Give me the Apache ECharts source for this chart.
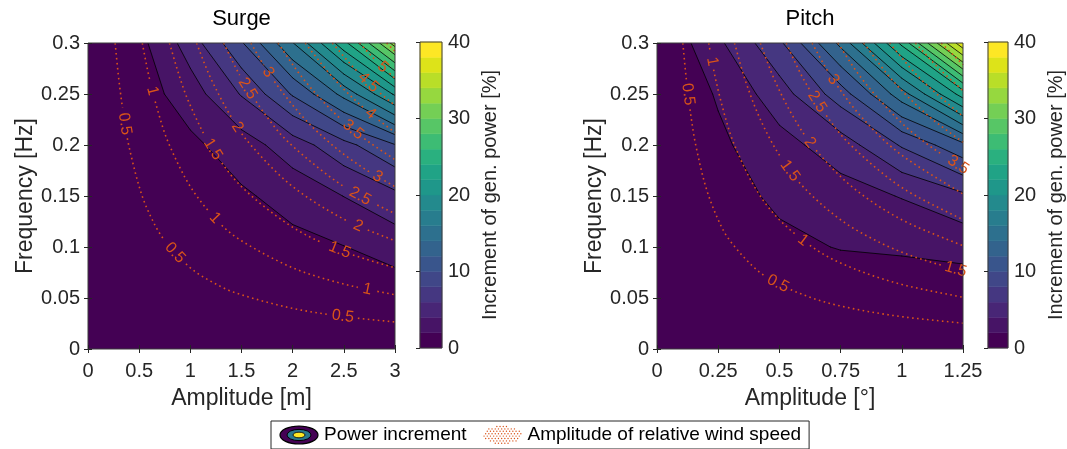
<!DOCTYPE html>
<html>
<head>
<meta charset="utf-8">
<script src="https://cdn.jsdelivr.net/npm/echarts@6/dist/echarts.min.js"></script>
<style>
  html, body { margin: 0; padding: 0; background: #fff; }
  #chart { width: 1067px; height: 449px; }
</style>
</head>
<body>
<div id="chart"></div>
<script>
// ---------------- data ----------------
// Surge: power increment [%] on an amplitude x frequency grid (rows = frequencies, bottom to top)
const surgeAmplitudes = [0, 0.5, 1, 1.5, 2, 2.5, 3];
const surgeFrequencies = [0, 0.05, 0.1, 0.15, 0.2, 0.25, 0.3];
const surgePower = [
  [0, 0,    0,    0,    0,    0,    0],
  [0, 0.04, 0.12, 0.25, 0.40, 0.59, 0.8],
  [0, 0.13, 0.43, 0.86, 1.40, 1.95, 2.8],
  [0, 0.26, 0.85, 1.69, 2.76, 4.03, 5.5],
  [0, 0.48, 1.55, 3.08, 5.03, 7.35, 9.9],
  [0, 0.95, 3.08, 6.14, 10.2, 14.6, 20.3],
  [0, 1.4,  4.9,  9.8,  15.9, 23.3, 32.9]
];

// Pitch: power increment [%] (rows = frequencies, bottom to top)
const pitchAmplitudes = [0, 0.25, 0.5, 0.75, 1, 1.25];
const pitchFrequencies = [0, 0.05, 0.1, 0.15, 0.2, 0.25, 0.3];
const pitchPower = [
  [0, 0,    0,   0,    0,    0],
  [0, 0.15, 0.4, 0.5,  0.6,  0.8],
  [0, 0.6,  1.5, 2.1,  2.3,  2.6],
  [0, 1.1,  2.4, 3.2,  4.1,  5.6],
  [0, 1.6,  3.3, 5.0,  8.2,  11.5],
  [0, 2.2,  5.1, 9.0,  15.1, 22.9],
  [0, 3.6,  7.6, 14.5, 24.5, 37.5]
];

// filled contour levels [%]
const powerLevels = [0, 2, 4, 6, 8, 10, 12, 14, 16, 18, 20, 22, 24, 26, 28, 30, 32, 34, 36, 38];

// relative wind speed amplitude [m/s]: iso-lines as [amplitude, frequency] points
const windLevels = [0.5, 1, 1.5, 2, 2.5, 3, 3.5, 4, 4.5, 5, 5.5];
const surgeWindCurves = [
  [[0.2653, 0.3], [0.3, 0.2653], [0.35, 0.2274], [0.4, 0.1989], [0.5, 0.1592], [0.6, 0.1326], [0.75, 0.1061], [1, 0.0796], [1.25, 0.0637], [1.5, 0.0531], [2, 0.0398], [2.5, 0.0318], [3, 0.0265]],
  [[0.5305, 0.3], [0.6, 0.2653], [0.7, 0.2274], [0.8, 0.1989], [1, 0.1592], [1.25, 0.1273], [1.5, 0.1061], [2, 0.0796], [2.5, 0.0637], [3, 0.0531]],
  [[0.7958, 0.3], [0.9, 0.2653], [1, 0.2387], [1.2, 0.1989], [1.5, 0.1592], [2, 0.1194], [2.5, 0.0955], [3, 0.0796]],
  [[1.061, 0.3], [1.2, 0.2653], [1.4, 0.2274], [1.6, 0.1989], [2, 0.1592], [2.5, 0.1273], [3, 0.1061]],
  [[1.3263, 0.3], [1.5, 0.2653], [1.75, 0.2274], [2, 0.1989], [2.5, 0.1592], [3, 0.1326]],
  [[1.5915, 0.3], [1.8, 0.2653], [2.1, 0.2274], [2.4, 0.1989], [2.7, 0.1768], [3, 0.1592]],
  [[1.8568, 0.3], [2.1, 0.2653], [2.4, 0.2321], [2.7, 0.2063], [3, 0.1857]],
  [[2.1221, 0.3], [2.4, 0.2653], [2.7, 0.2358], [3, 0.2122]],
  [[2.3873, 0.3], [2.6, 0.2755], [2.8, 0.2558], [3, 0.2387]],
  [[2.6526, 0.3], [2.8, 0.2842], [3, 0.2653]],
  [[2.9178, 0.3], [3, 0.2918]]
];
const pitchWindCurves = [
  [[0.1056, 0.3], [0.12, 0.2639], [0.14, 0.2262], [0.16, 0.1979], [0.2, 0.1583], [0.25, 0.1267], [0.3, 0.1056], [0.4, 0.0792], [0.5, 0.0633], [0.65, 0.0487], [0.8, 0.0396], [1, 0.0317], [1.25, 0.0253]],
  [[0.2111, 0.3], [0.24, 0.2639], [0.28, 0.2262], [0.32, 0.1979], [0.4, 0.1583], [0.5, 0.1267], [0.65, 0.0974], [0.8, 0.0792], [1, 0.0633], [1.25, 0.0507]],
  [[0.3167, 0.3], [0.36, 0.2639], [0.42, 0.2262], [0.5, 0.19], [0.6, 0.1583], [0.75, 0.1267], [0.9, 0.1056], [1.05, 0.0905], [1.25, 0.076]],
  [[0.4222, 0.3], [0.48, 0.2639], [0.56, 0.2262], [0.65, 0.1949], [0.8, 0.1583], [1, 0.1267], [1.25, 0.1013]],
  [[0.5278, 0.3], [0.6, 0.2639], [0.7, 0.2262], [0.8, 0.1979], [1, 0.1583], [1.25, 0.1267]],
  [[0.6333, 0.3], [0.72, 0.2639], [0.84, 0.2262], [1, 0.19], [1.25, 0.152]],
  [[0.7389, 0.3], [0.84, 0.2639], [0.98, 0.2262], [1.1, 0.2015], [1.25, 0.1773]],
  [[0.8444, 0.3], [0.96, 0.2639], [1.1, 0.2303], [1.25, 0.2027]],
  [[0.95, 0.3], [1.08, 0.2639], [1.25, 0.228]],
  [[1.0555, 0.3], [1.15, 0.2754], [1.25, 0.2533]],
  [[1.1611, 0.3], [1.25, 0.2787]]
];

// inline labels on the wind-speed lines: [level, amplitude where the label sits]
const surgeWindLabels = [
  [0.5, 0.36], [0.5, 0.85], [0.5, 2.49],
  [1, 0.63], [1, 1.24], [1, 2.73],
  [1.5, 1.22], [1.5, 2.46],
  [2, 1.46], [2, 2.64],
  [2.5, 1.56], [2.5, 2.66],
  [3, 1.76], [3, 2.83],
  [3.5, 2.59], [4, 2.76], [4.5, 2.74], [5, 2.88]
];
const pitchWindLabels = [
  [0.5, 0.127], [0.5, 0.494],
  [1, 0.225], [1, 0.596],
  [1.5, 0.543], [1.5, 1.22],
  [2, 0.625], [2.5, 0.654], [3, 0.719], [3.5, 1.23]
];

// tick labels
const surgeAmplitudeTicks = [0, 0.5, 1, 1.5, 2, 2.5, 3];
const pitchAmplitudeTicks = [0, 0.25, 0.5, 0.75, 1, 1.25];
const frequencyTicks = [0, 0.05, 0.1, 0.15, 0.2, 0.25, 0.3];
const colorbarTicks = [0, 10, 20, 30, 40];

// ---------------- styling helpers ----------------
const FONT = "'Liberation Sans', Arial, Helvetica, sans-serif";
const AXIS_COLOR = '#262626';
const WIND_COLOR = '#D95319';

const VIRIDIS = ['#440154', '#471365', '#482475', '#463480', '#414487', '#3B528B', '#355F8D',
  '#2F6C8E', '#2A788E', '#25848E', '#21918C', '#1E9C89', '#22A884', '#2FB47C', '#44BF70',
  '#5EC962', '#7AD151', '#9BD93C', '#BDDF26', '#DFE318', '#FDE725'];
function hexRgb(h) { return [1, 3, 5].map(o => parseInt(h.slice(o, o + 2), 16)); }
function viridis(t) {
  const s = t * (VIRIDIS.length - 1);
  const i = Math.min(Math.floor(s), VIRIDIS.length - 2);
  const f = s - i;
  const a = hexRgb(VIRIDIS[i]), b = hexRgb(VIRIDIS[i + 1]);
  return 'rgb(' + a.map((c, k) => Math.round(c + (b[k] - c) * f)).join(',') + ')';
}
const bandColors = powerLevels.map((_, k) => viridis(k / (powerLevels.length - 1)));
const levelStep = powerLevels[1] - powerLevels[0];

// ---------------- contouring on the grid ----------------
function cellCorners(amps, freqs, power, i, j) {
  return [
    { x: amps[i], y: freqs[j], v: power[j][i] },
    { x: amps[i + 1], y: freqs[j], v: power[j][i + 1] },
    { x: amps[i + 1], y: freqs[j + 1], v: power[j + 1][i + 1] },
    { x: amps[i], y: freqs[j + 1], v: power[j + 1][i] }
  ];
}
// part of a cell where value >= L (linear along the edges)
function clipCell(c, L) {
  const out = [];
  for (let e = 0; e < 4; e++) {
    const p = c[e], q = c[(e + 1) % 4];
    const pin = p.v >= L, qin = q.v >= L;
    if (pin) out.push([p.x, p.y]);
    if (pin !== qin) {
      const t = (L - p.v) / (q.v - p.v);
      out.push([p.x + t * (q.x - p.x), p.y + t * (q.y - p.y)]);
    }
  }
  return out;
}
function crossings(c, L) {
  const out = [];
  for (let e = 0; e < 4; e++) {
    const p = c[e], q = c[(e + 1) % 4];
    if ((p.v >= L) !== (q.v >= L)) {
      const t = (L - p.v) / (q.v - p.v);
      out.push([p.x + t * (q.x - p.x), p.y + t * (q.y - p.y)]);
    }
  }
  return out;
}
function allCells(amps, freqs, power) {
  const out = [];
  for (let j = 0; j < freqs.length - 1; j++)
    for (let i = 0; i < amps.length - 1; i++)
      out.push(cellCorners(amps, freqs, power, i, j));
  return out;
}

// one data item per level, painted from the lowest level up; all cell pieces of a level
// go into a single compound path so shared cell edges leave no seams
function fillRenderer(amps, freqs, power) {
  const cells = allCells(amps, freqs, power);
  return function (params, api) {
    const k = params.dataIndex, L = powerLevels[k];
    let d = '';
    cells.forEach(c => {
      const poly = clipCell(c, L);
      if (poly.length < 3) return;
      poly.map(p => api.coord(p)).forEach((q, n) => {
        d += (n === 0 ? 'M' : 'L') + q[0].toFixed(2) + ' ' + q[1].toFixed(2) + ' ';
      });
      d += 'Z ';
    });
    if (!d) return { type: 'group', children: [] };
    return { type: 'path', shape: { pathData: d }, style: { fill: bandColors[k] } };
  };
}

function lineRenderer(amps, freqs, power) {
  const cells = allCells(amps, freqs, power);
  return function (params, api) {
    const L = powerLevels[params.dataIndex];
    const children = [];
    if (params.dataIndex === 0) return { type: 'group', children };
    cells.forEach(c => {
      const x = crossings(c, L);
      for (let n = 0; n + 1 < x.length; n += 2) {
        const a = api.coord(x[n]), b = api.coord(x[n + 1]);
        children.push({
          type: 'line',
          shape: { x1: a[0], y1: a[1], x2: b[0], y2: b[1] },
          style: { stroke: '#000', lineWidth: 0.8, lineCap: 'round' }
        });
      }
    });
    return { type: 'group', children };
  };
}

// Catmull-Rom through pixel points (rendering only)
function smoothPixels(pts, steps) {
  if (pts.length < 3) return pts.slice();
  const out = [];
  for (let i = 0; i < pts.length - 1; i++) {
    const p0 = pts[Math.max(i - 1, 0)], p1 = pts[i], p2 = pts[i + 1], p3 = pts[Math.min(i + 2, pts.length - 1)];
    for (let s = 0; s < steps; s++) {
      const t = s / steps, t2 = t * t, t3 = t2 * t;
      out.push([0, 1].map(k => 0.5 * ((2 * p1[k]) + (-p0[k] + p2[k]) * t +
        (2 * p0[k] - 5 * p1[k] + 4 * p2[k] - p3[k]) * t2 + (-p0[k] + 3 * p1[k] - 3 * p2[k] + p3[k]) * t3)));
    }
  }
  out.push(pts[pts.length - 1]);
  return out;
}
const LABEL_SIZE = 16;
function labelWidth(s) {
  let w = 0;
  for (const ch of s) w += (ch === '.' ? 0.278 : 0.556) * LABEL_SIZE;
  return w;
}

function windRenderer(curves, labels) {
  return function (params, api) {
    const level = windLevels[params.dataIndex];
    const pts = smoothPixels(curves[params.dataIndex].map(p => api.coord(p)), 12);
    const arc = [0];
    for (let i = 1; i < pts.length; i++)
      arc.push(arc[i - 1] + Math.hypot(pts[i][0] - pts[i - 1][0], pts[i][1] - pts[i - 1][1]));
    const cuts = [];
    const children = [];
    labels.filter(l => l[0] === level).forEach(l => {
      const xp = api.coord([l[1], 0])[0];
      for (let i = 0; i < pts.length - 1; i++) {
        const a = pts[i], b = pts[i + 1];
        if ((a[0] - xp) * (b[0] - xp) <= 0 && a[0] !== b[0]) {
          const t = (xp - a[0]) / (b[0] - a[0]);
          const x = a[0] + t * (b[0] - a[0]), y = a[1] + t * (b[1] - a[1]);
          const s0 = arc[i] + t * (arc[i + 1] - arc[i]);
          let dx = b[0] - a[0], dy = b[1] - a[1];
          if (dx < 0) { dx = -dx; dy = -dy; }
          const text = String(level);
          const half = labelWidth(text) / 2 + 3;
          cuts.push([s0 - half, s0 + half]);
          children.push({
            type: 'text', x: x, y: y, rotation: Math.atan2(-dy, dx), z2: 5,
            style: { text: text, fill: WIND_COLOR, fontSize: LABEL_SIZE, fontFamily: FONT,
              align: 'center', verticalAlign: 'middle' }
          });
          break;
        }
      }
    });
    // split the line where labels sit
    let piece = [];
    const flush = () => {
      if (piece.length > 1) children.push({
        type: 'polyline', shape: { points: piece },
        style: { stroke: WIND_COLOR, lineWidth: 1.6, lineDash: [1.6, 3.4], fill: null }
      });
      piece = [];
    };
    for (let i = 0; i < pts.length; i++) {
      const inCut = cuts.some(c => arc[i] > c[0] && arc[i] < c[1]);
      if (inCut) flush(); else piece.push(pts[i]);
    }
    flush();
    return { type: 'group', children };
  };
}

function colorbarRenderer(params, api) {
  const L = powerLevels[params.dataIndex];
  const a = api.coord([0, L + levelStep]), b = api.coord([1, L]);
  const col = bandColors[params.dataIndex];
  return {
    type: 'rect',
    shape: { x: a[0], y: a[1], width: b[0] - a[0], height: b[1] - a[1] },
    style: { fill: col, stroke: col, lineWidth: 0.5 }
  };
}

// ---------------- axes / panels ----------------
function valueAxis(extra) {
  return Object.assign({
    type: 'value', z: 10,
    axisLine: { show: false },
    axisTick: { show: true, inside: true, length: 4, lineStyle: { color: AXIS_COLOR, width: 1 } },
    splitLine: { show: false },
    axisLabel: { show: false }
  }, extra);
}
const tickLabel = { show: true, fontSize: 20, color: AXIS_COLOR, fontFamily: FONT, showMinLabel: true, showMaxLabel: true };
const nameStyle = { fontSize: 23, color: AXIS_COLOR, fontFamily: FONT };

const panels = [
  { name: 'Surge', xName: 'Amplitude [m]', ampTicks: surgeAmplitudeTicks, amps: surgeAmplitudes, freqs: surgeFrequencies,
    power: surgePower, curves: surgeWindCurves, labels: surgeWindLabels,
    grid: { left: 88, top: 43, width: 307, height: 306 }, bar: { left: 420, top: 42, width: 22, height: 306 } },
  { name: 'Pitch', xName: 'Amplitude [°]', ampTicks: pitchAmplitudeTicks, amps: pitchAmplitudes, freqs: pitchFrequencies,
    power: pitchPower, curves: pitchWindCurves, labels: pitchWindLabels,
    grid: { left: 657, top: 43, width: 306, height: 306 }, bar: { left: 988, top: 42, width: 22, height: 306 } }
];

const grids = [], xAxes = [], yAxes = [], series = [], graphics = [];
const gridFrame = { show: true, borderColor: '#3a3a3a', borderWidth: 1, backgroundColor: 'transparent', z: 10 };

panels.forEach((p, n) => {
  const g = 2 * n, a = 3 * n;
  grids.push(Object.assign({}, p.grid, gridFrame));
  grids.push(Object.assign({}, p.bar, gridFrame));
  const xr = { min: p.ampTicks[0], max: p.ampTicks[p.ampTicks.length - 1], interval: p.ampTicks[1] - p.ampTicks[0] };
  const yr = { min: frequencyTicks[0], max: frequencyTicks[frequencyTicks.length - 1], interval: frequencyTicks[1] - frequencyTicks[0] };
  xAxes.push(valueAxis(Object.assign({ gridIndex: g, position: 'bottom',
    axisLabel: Object.assign({ margin: 12 }, tickLabel),
    name: p.xName, nameLocation: 'middle', nameGap: 38, nameTextStyle: nameStyle }, xr)));
  xAxes.push(valueAxis(Object.assign({ gridIndex: g, position: 'top' }, xr)));
  xAxes.push({ type: 'value', gridIndex: g + 1, min: 0, max: 1, show: false });
  yAxes.push(valueAxis(Object.assign({ gridIndex: g, position: 'left',
    axisLabel: Object.assign({ margin: 8 }, tickLabel),
    name: 'Frequency [Hz]', nameLocation: 'middle', nameGap: 49, nameRotate: 90, nameTextStyle: nameStyle }, yr)));
  yAxes.push(valueAxis(Object.assign({ gridIndex: g, position: 'right' }, yr)));
  yAxes.push(valueAxis({ gridIndex: g + 1, position: 'right',
    min: colorbarTicks[0], max: colorbarTicks[colorbarTicks.length - 1], interval: colorbarTicks[1] - colorbarTicks[0],
    axisLabel: Object.assign({ margin: 6 }, tickLabel),
    name: 'Increment of gen. power [%]', nameLocation: 'middle', nameGap: 38, nameRotate: 90,
    nameTextStyle: { fontSize: 20, color: AXIS_COLOR, fontFamily: FONT } }));

  const levelItems = powerLevels.map(L => [p.amps[0], p.freqs[0], L]);
  series.push({
    type: 'custom', name: 'Power increment', xAxisIndex: a, yAxisIndex: a, z: 1, clip: true,
    renderItem: fillRenderer(p.amps, p.freqs, p.power), data: levelItems, silent: true
  });
  series.push({
    type: 'custom', name: 'Power contour', xAxisIndex: a, yAxisIndex: a, z: 2, clip: true,
    renderItem: lineRenderer(p.amps, p.freqs, p.power), data: levelItems, silent: true
  });
  series.push({
    type: 'custom', name: 'Amplitude of relative wind speed', xAxisIndex: a, yAxisIndex: a, z: 3, clip: false,
    renderItem: windRenderer(p.curves, p.labels), data: p.curves.map(c => c[0]), silent: true
  });
  series.push({
    type: 'custom', name: 'Colorbar', xAxisIndex: a + 2, yAxisIndex: a + 2, z: 1,
    renderItem: colorbarRenderer, data: powerLevels.map(L => [0.5, L + levelStep / 2]), silent: true
  });
  graphics.push({
    type: 'text', x: p.grid.left + p.grid.width / 2, y: 19,
    style: { text: p.name, fill: '#000', fontSize: 22, fontFamily: FONT, align: 'center', verticalAlign: 'middle' }
  });
});

// legend icons
const powerIconSvg = "<svg xmlns='http://www.w3.org/2000/svg' width='40' height='20' viewBox='0 0 40 20'>" +
  "<ellipse cx='20' cy='10' rx='19' ry='9' fill='#440154' stroke='#000' stroke-width='1.2'/>" +
  "<ellipse cx='20' cy='10' rx='12' ry='5.6' fill='#2A788E' stroke='#000' stroke-width='1'/>" +
  "<ellipse cx='20' cy='10' rx='6' ry='2.8' fill='#FDE725' stroke='#000' stroke-width='0.8'/></svg>";
let dots = '';
for (let r = 0; r < 8; r++) {
  const y = 1.5 + r * 2.4;
  for (let x = 1.5 + (r % 2) * 1.6; x < 39; x += 3.2) {
    if (((x - 20) / 19) ** 2 + ((y - 10) / 9) ** 2 <= 1) dots += "<circle cx='" + x.toFixed(1) + "' cy='" + y.toFixed(1) + "' r='0.7' fill='" + WIND_COLOR + "'/>";
  }
}
const windIconSvg = "<svg xmlns='http://www.w3.org/2000/svg' width='40' height='20' viewBox='0 0 40 20'>" + dots + "</svg>";
const svgUrl = s => 'image://data:image/svg+xml;charset=utf-8,' + encodeURIComponent(s);

const chart = echarts.init(document.getElementById('chart'), null, { renderer: 'canvas' });
chart.setOption({
  animation: false,
  backgroundColor: '#fff',
  textStyle: { fontFamily: FONT },
  grid: grids,
  xAxis: xAxes,
  yAxis: yAxes,
  series: series,
  graphic: graphics,
  legend: {
    left: 271, top: 421, orient: 'horizontal', selectedMode: false,
    itemWidth: 40, itemHeight: 20, itemGap: 16,
    padding: [4, 8, 4, 8],
    borderColor: '#262626', borderWidth: 1, backgroundColor: '#fff',
    textStyle: { fontSize: 19, color: '#000', fontFamily: FONT },
    data: [
      { name: 'Power increment', icon: svgUrl(powerIconSvg) },
      { name: 'Amplitude of relative wind speed', icon: svgUrl(windIconSvg) }
    ]
  }
});
</script>
</body>
</html>
